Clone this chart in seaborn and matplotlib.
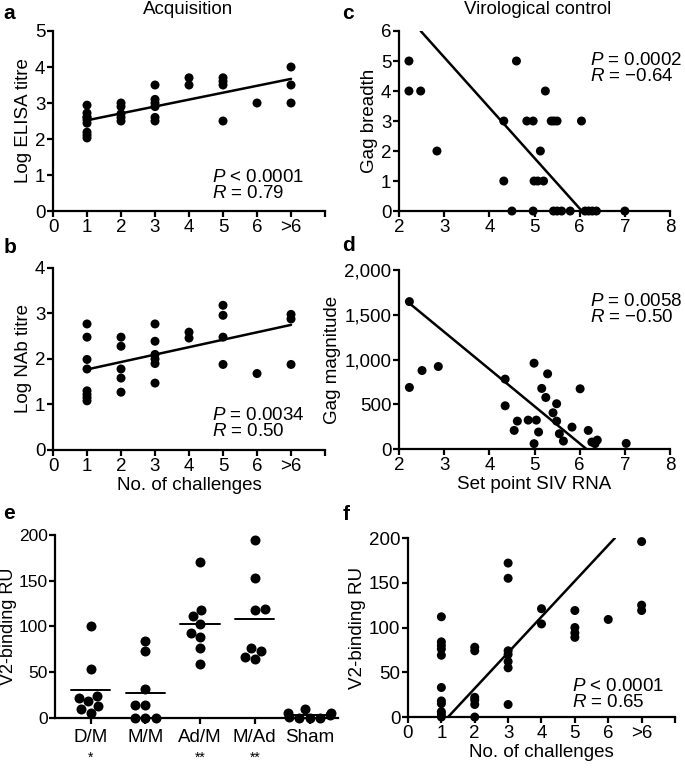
import numpy as np
import pandas as pd
import matplotlib
matplotlib.use('Agg')
import matplotlib.pyplot as plt
import matplotlib.transforms as mtrans
import seaborn as sns

# ---- data ----
# a: log ELISA titre vs number of challenges (7 = ">6")
a_chal = [1]*9 + [2]*5 + [3]*6 + [4]*2 + [5]*4 + [6] + [7]*3
a_elisa = [2.94, 2.72, 2.61, 2.53, 2.44, 2.19, 2.11, 2.03, 2.6,
           3.0, 2.9, 2.7, 2.6, 2.5,
           3.5, 3.1, 3.0, 2.9, 2.6, 2.5,
           3.7, 3.5,
           3.7, 3.6, 3.5, 2.5,
           3.0,
           4.0, 3.5, 3.0]
a_fit_x = [1, 7]
a_fit_y = [2.52, 3.67]

# b: log NAb titre vs number of challenges
b_chal = [1]*8 + [2]*5 + [3]*6 + [4]*2 + [5]*4 + [6] + [7]*3
b_nab = [2.77, 2.48, 1.99, 1.78, 1.3, 1.22, 1.15, 1.08,
         2.48, 2.28, 1.78, 1.58, 1.27,
         2.77, 2.39, 2.1, 2.0, 1.9, 1.47,
         2.59, 2.46,
         3.18, 2.96, 2.48, 1.88,
         1.68,
         2.98, 2.88, 1.88]
b_fit_x = [1, 7]
b_fit_y = [1.77, 2.75]

# c: Gag breadth vs set point SIV RNA
c_rna = [2.22, 2.22, 2.48, 2.84, 4.6, 5.24, 4.32, 4.83, 4.97, 5.37, 5.43, 5.5,
         6.04, 5.13, 4.32, 4.99, 5.07, 5.2, 4.5, 4.97, 5.42, 5.5, 5.6, 5.79,
         6.12, 6.2, 6.28, 6.37, 7.0]
c_breadth = [5, 4, 4, 2, 5, 4, 3, 3, 3, 3, 3, 3,
             3, 2, 1, 1, 1, 1, 0, 0, 0, 0, 0, 0,
             0, 0, 0, 0, 0]
c_fit_x = [2.48, 6.05]
c_fit_y = [6.0, 0.0]

# d: Gag magnitude vs set point SIV RNA
d_rna = [2.23, 2.23, 2.51, 2.87, 4.35, 4.35, 4.55, 4.62, 4.86, 4.99, 5.04, 4.99,
         5.09, 5.16, 5.25, 5.29, 5.41, 5.49, 5.49, 5.55, 5.64, 5.83, 6.01, 6.19,
         6.27, 6.34, 6.39, 7.03]
d_mag = [1647, 688, 877, 922, 781, 483, 208, 312, 323, 959, 323, 60,
         190, 677, 576, 840, 405, 506, 312, 171, 89, 245, 673, 208,
         78, 60, 100, 63]
d_fit_x = [2.25, 6.15]
d_fit_y = [1620, 0]

# e: V2-binding RU by vaccine group
e_groups = ['D/M', 'M/M', 'Ad/M', 'M/Ad', 'Sham']
e_stars = ['*', '', '**', '**', '']
e_dm = [100, 54, 24, 22, 18, 13, 10, 5]
e_mm = [84, 73, 32, 14, 14, 0, 0, 0]
e_adm = [171, 118, 111, 103, 93, 88, 76, 59]
e_mad = [195, 153, 119, 118, 76, 73, 67, 64]
e_sham = [10, 5, 5, 3, 1, 0, 0, 0]

# f: V2-binding RU vs number of challenges
f_chal = [1]*11 + [2]*6 + [3]*7 + [4]*2 + [5]*4 + [6] + [7]*3
f_ru = [112, 84, 80, 76, 69, 33, 18, 15, 6, 3, 0,
        78, 74, 22, 19, 14, 0,
        172, 155, 74, 70, 62, 55, 14,
        121, 104,
        119, 100, 94, 89,
        109,
        196, 125, 119]
f_fit_x = [1.2, 6.2]
f_fit_y = [0, 200]

chal_ticks = [0, 1, 2, 3, 4, 5, 6, 7, 8]
chal_labels = ['0', '1', '2', '3', '4', '5', '6', '>6', '']
mag_ticks = [0, 500, 1000, 1500, 2000]
mag_labels = ['0', '500', '1,000', '1,500', '2,000']

# ---- style ----
FS = 13.5
sns.set_theme(style='ticks')
plt.rcParams['font.family'] = ['Liberation Sans', 'DejaVu Sans']
plt.rcParams['mathtext.fontset'] = 'custom'
plt.rcParams['mathtext.rm'] = 'Liberation Sans'
plt.rcParams['mathtext.it'] = 'Liberation Sans:italic'
plt.rcParams.update({
    'axes.linewidth': 1.6,
    'xtick.major.width': 1.6, 'ytick.major.width': 1.6,
    'xtick.major.size': 4, 'ytick.major.size': 4,
    'xtick.major.pad': 2, 'ytick.major.pad': 1.5,
    'xtick.labelsize': FS, 'ytick.labelsize': FS,
    'axes.labelsize': FS,
    'xtick.color': 'black', 'ytick.color': 'black',
    'axes.edgecolor': 'black', 'text.color': 'black', 'axes.labelcolor': 'black',
})

fig = plt.figure(figsize=(6.85, 7.73), dpi=100)
ax_a = fig.add_axes([0.0774, 0.7270, 0.3971, 0.2329])
ax_b = fig.add_axes([0.0774, 0.4179, 0.3971, 0.2354])
ax_c = fig.add_axes([0.5825, 0.7270, 0.3956, 0.2329])
ax_d = fig.add_axes([0.5825, 0.4191, 0.3956, 0.2316])
ax_e = fig.add_axes([0.0803, 0.0712, 0.4131, 0.2367])
ax_f = fig.add_axes([0.5956, 0.0724, 0.3898, 0.2316])

dot = dict(color='black', s=42, edgecolor='none', clip_on=False, zorder=3)


def scatter_panel(ax, x, y, fx, fy, xlim, ylim, yticks, ylabel, xlabel=None):
    sns.scatterplot(x=x, y=y, ax=ax, **dot)
    ax.plot(fx, fy, color='black', lw=1.8, zorder=2)
    ax.set_xlim(*xlim)
    ax.set_ylim(*ylim)
    ax.set_yticks(yticks)
    ax.set_ylabel(ylabel, labelpad=2)
    ax.set_xlabel(xlabel if xlabel else '', labelpad=1)
    sns.despine(ax=ax)


def stats(ax, x, y, p, r):
    # two lines, P on top, R below
    ax.text(x, y, p + '\n' + r, transform=ax.transAxes, fontsize=FS,
            va='center', ha='left', linespacing=0.95)


scatter_panel(ax_a, a_chal, a_elisa, a_fit_x, a_fit_y, (0, 8), (0, 5),
              range(0, 6), 'Log ELISA titre')
ax_a.set_xticks(chal_ticks, chal_labels)
stats(ax_a, 0.585, 0.14, r'$P$ < 0.0001', r'$R$ = 0.79')

scatter_panel(ax_b, b_chal, b_nab, b_fit_x, b_fit_y, (0, 8), (0, 4),
              range(0, 5), 'Log NAb titre', 'No. of challenges')
ax_b.set_xticks(chal_ticks, chal_labels)
stats(ax_b, 0.585, 0.145, r'$P$ = 0.0034', r'$R$ = 0.50')

scatter_panel(ax_c, c_rna, c_breadth, c_fit_x, c_fit_y, (2, 8), (0, 6),
              range(0, 7), 'Gag breadth')
ax_c.set_xticks(range(2, 9))
stats(ax_c, 0.705, 0.79, r'$P$ = 0.0002', '$R$ = \u22120.64')

scatter_panel(ax_d, d_rna, d_mag, d_fit_x, d_fit_y, (2, 8), (0, 2000),
              mag_ticks, 'Gag magnitude', 'Set point SIV RNA')
ax_d.set_yticks(mag_ticks, mag_labels)
ax_d.set_xticks(range(2, 9))
stats(ax_d, 0.705, 0.78, r'$P$ = 0.0058', '$R$ = \u22120.50')

# e: group dot plot with means
e_df = pd.DataFrame({
    'group': np.repeat(e_groups, [len(e_dm), len(e_mm), len(e_adm), len(e_mad), len(e_sham)]),
    'ru': e_dm + e_mm + e_adm + e_mad + e_sham,
})
sns.swarmplot(data=e_df, x='group', y='ru', order=e_groups, color='black',
              size=7.2, ax=ax_e, clip_on=False, zorder=3)
means = e_df.groupby('group')['ru'].mean()
for i, g in enumerate(e_groups):
    ax_e.plot([i - 0.36, i + 0.36], [means[g], means[g]], color='black', lw=1.4, zorder=2)
blend = mtrans.blended_transform_factory(ax_e.transData, ax_e.transAxes)
for i, s in enumerate(e_stars):
    if s:
        ax_e.text(i, -0.22, s, transform=blend, ha='center', va='center', fontsize=10)
ax_e.set_xlim(-0.65, 4.52)
ax_e.set_ylim(0, 200)
ax_e.set_yticks(range(0, 201, 50))
ax_e.tick_params(axis='x', pad=4)
ax_e.tick_params(axis='y', labelsize=12.5, pad=1)
ax_e.set_xlabel('')
ax_e.set_ylabel('V2-binding RU', fontsize=13)
ax_e.yaxis.set_label_coords(-0.135, 0.5)
sns.despine(ax=ax_e)

scatter_panel(ax_f, f_chal, f_ru, f_fit_x, f_fit_y, (0, 8), (0, 200),
              range(0, 201, 50), 'V2-binding RU', 'No. of challenges')
ax_f.set_xticks(chal_ticks, chal_labels)
stats(ax_f, 0.614, 0.125, r'$P$ < 0.0001', r'$R$ = 0.65')

# titles and panel letters
fig.text(0.275, 0.988, 'Acquisition', ha='center', va='center', fontsize=FS)
fig.text(0.785, 0.988, 'Virological control', ha='center', va='center', fontsize=FS)
for lbl, x, y in [('a', 0.005, 0.983), ('b', 0.005, 0.680), ('c', 0.500, 0.983),
                  ('d', 0.500, 0.683), ('e', 0.005, 0.336), ('f', 0.500, 0.334)]:
    fig.text(x, y, lbl, fontsize=15, fontweight='bold', ha='left', va='center')

fig.savefig('out.png', dpi=100)
